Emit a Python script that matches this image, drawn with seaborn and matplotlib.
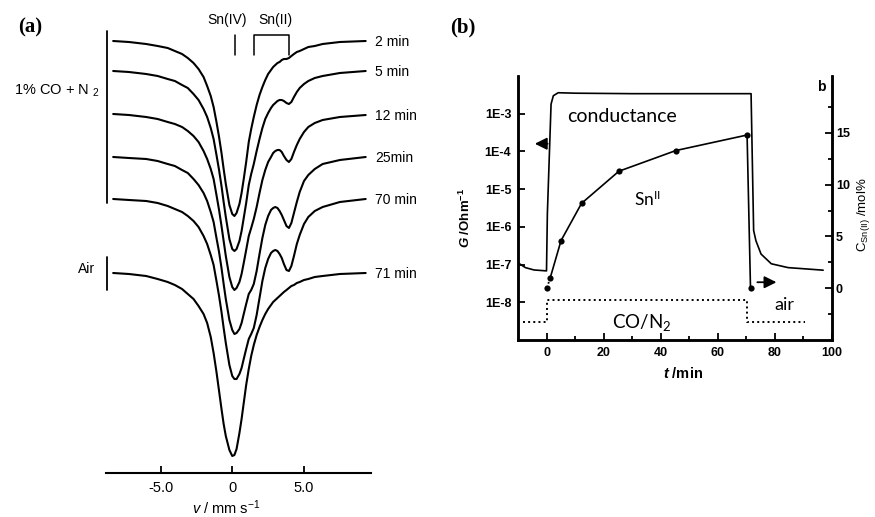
import numpy as np
import seaborn as sns
import matplotlib.pyplot as plt
from matplotlib.ticker import FixedLocator, NullLocator

# ---- (a) Moessbauer spectra: velocity (mm/s) and absorption depth
velocity = [-8.3, -7.2, -6.0, -5.2, -4.5, -4.0, -3.5, -3.1, -2.7, -2.35,
            -2.0, -1.75, -1.5, -1.3, -1.1, -0.92, -0.75, -0.6, -0.45, -0.2,
            0.0, 0.15, 0.3, 0.5, 0.65, 0.8, 0.97, 1.15, 1.32, 1.5,
            1.7, 1.9, 2.1, 2.3, 2.5, 2.7, 2.85, 3.0, 3.15, 3.3,
            3.45, 3.6, 3.78, 3.95, 4.12, 4.3, 4.5, 4.7, 5.0, 5.3,
            5.75, 6.3, 7.5, 9.3]
depth_2min = [3, 4, 6, 8, 10, 13, 16, 20, 25, 31,
              39, 48, 58, 69, 84, 99, 115, 131, 146, 167,
              176, 178, 175, 166, 155, 141, 124, 104, 91, 79,
              67, 57, 49, 42, 36, 32, 29, 27, 25, 24,
              22, 21, 21, 20, 18, 16, 14, 13, 11, 9,
              8, 6, 4, 3]
depth_5min = [3, 4, 6, 8, 11, 13, 17, 20, 26, 32,
              41, 49, 60, 71, 87, 102, 118, 134, 149, 171,
              181, 183, 181, 173, 163, 150, 135, 117, 106, 96,
              83, 71, 60, 51, 45, 40, 37, 35, 33, 32,
              32, 33, 35, 36, 34, 29, 24, 20, 16, 13,
              10, 8, 5, 3]
depth_12min = [3, 4, 6, 8, 11, 13, 16, 20, 25, 31,
               40, 48, 58, 68, 84, 99, 115, 130, 145, 166,
               176, 179, 177, 171, 163, 152, 139, 125, 117, 108,
               96, 82, 69, 59, 51, 46, 42, 40, 39, 39,
               41, 45, 49, 51, 48, 41, 34, 28, 21, 16,
               12, 9, 6, 4]
depth_25min = [4, 5, 6, 8, 11, 13, 17, 20, 26, 32,
               40, 48, 59, 69, 85, 99, 115, 131, 146, 167,
               177, 181, 180, 176, 170, 161, 151, 141, 137, 131,
               118, 101, 85, 72, 63, 57, 55, 54, 55, 58,
               62, 67, 73, 75, 70, 60, 49, 39, 28, 22,
               16, 11, 7, 4]
depth_70min = [4, 5, 6, 8, 11, 14, 17, 21, 26, 32,
               41, 49, 60, 70, 86, 101, 117, 133, 148, 170,
               181, 184, 184, 179, 173, 164, 154, 144, 139, 133,
               120, 103, 86, 73, 64, 58, 56, 55, 56, 59,
               63, 69, 75, 76, 71, 61, 49, 40, 29, 22,
               16, 12, 7, 4]
depth_71min = [3, 4, 6, 9, 12, 15, 19, 24, 29, 36,
               44, 53, 67, 83, 102, 121, 139, 154, 166, 180,
               186, 185, 179, 163, 149, 133, 115, 99, 86, 75,
               65, 57, 50, 44, 39, 35, 32, 30, 28, 26,
               24, 22, 20, 18, 16, 15, 13, 12, 10, 9,
               7, 6, 4, 3]
run_labels = ['2 min', '5 min', '12 min', '25min', '70 min', '71 min']

# ---- (b) conductance (left, log) and Sn(II) content (right) against time
cond_t = [-10, -7.5, -4.5, -0.1, 0.2, 1.5, 2.3, 4, 10, 30, 50, 71.7,
          72.6, 73.4, 75.2, 78.8, 84.7, 91.7, 97]
cond_G = [1.1e-7, 8.3e-8, 7.2e-8, 6.8e-8, 2.2e-6, 1.8e-3, 3.0e-3, 3.6e-3, 3.5e-3, 3.4e-3, 3.4e-3, 3.4e-3,
          8.0e-7, 4.3e-7, 1.9e-7, 1.05e-7, 8.3e-8, 7.6e-8, 7.1e-8]
sn_t = [0, 1.2, 5.0, 12.2, 25.3, 45.3, 70.3, 71.5]
sn_c = [0, 1.0, 4.6, 8.2, 11.3, 13.3, 14.8, 0]
gas_t = [-8.5, 0, 0, 70.3, 70.3, 90.5]
gas_G = [3.0e-9, 3.0e-9, 1.13e-8, 1.13e-8, 3.0e-9, 3.0e-9]
g_ticks = [1e-8, 1e-7, 1e-6, 1e-5, 1e-4, 1e-3]
g_labels = ['1E-8', '1E-7', '1E-6', '1E-5', '1E-4', '1E-3']

sns.set_theme(style='ticks', rc={'axes.edgecolor': 'black', 'xtick.color': 'black',
                                 'ytick.color': 'black', 'text.color': 'black'})
plt.rcParams['font.family'] = ['Liberation Sans', 'DejaVu Sans']
plt.rcParams['mathtext.fontset'] = 'custom'
plt.rcParams['mathtext.rm'] = 'Liberation Sans'
plt.rcParams['mathtext.it'] = 'Liberation Sans:italic'
plt.rcParams['mathtext.bf'] = 'Liberation Sans:bold'
plt.rcParams['mathtext.bfit'] = 'Liberation Sans:italic:bold'
plt.rcParams['mathtext.sf'] = 'Lato'

fig = plt.figure(figsize=(8.75, 5.17), dpi=100)

# ================= panel (a)
ax1 = fig.add_axes([106 / 875, 44 / 517, 265 / 875, 463 / 517])
spectra = [depth_2min, depth_5min, depth_12min, depth_25min, depth_70min, depth_71min]
stack = [-38, -68, -111, -153, -195, -270]
for lab, d, off in zip(run_labels, spectra, stack):
    y = off - np.asarray(d)
    sns.lineplot(x=velocity, y=y, ax=ax1, color='black', linewidth=1.5,
                 estimator=None, sort=False)
    ax1.text(9.95, y[-1] - 1, lab, ha='left', va='center', fontsize=10)

ax1.set_xlim(-8.8, 9.67)
ax1.set_ylim(-473, -10)
for s in ['left', 'right', 'top']:
    ax1.spines[s].set_visible(False)
ax1.spines['bottom'].set_linewidth(1.5)
ax1.set_yticks([])
ax1.set_xticks([-5, 0, 5], ['-5.0', '0', '5.0'])
ax1.tick_params(axis='x', direction='in', length=5, width=1.3, labelsize=10.5, pad=6)
ax1.set_xlabel('')
ax1.set_ylabel('')

# gas brackets and line markers
ax1.plot([-8.73, -8.73], [-31, -203], color='black', lw=1.3)
ax1.plot([-8.73, -8.73], [-257, -290], color='black', lw=1.3)
ax1.text(-9.22, -91, '1% CO + N $_2$', ha='right', va='center', fontsize=10.5)
ax1.text(-9.57, -269, 'Air', ha='right', va='center', fontsize=10)
ax1.plot([0.19, 0.19], [-35, -55], color='black', lw=1.1)
ax1.plot([1.53, 1.53, 3.97, 3.97], [-55, -35, -35, -55], color='black', lw=1.1)
ax1.text(-0.37, -20, 'Sn(IV)', ha='center', va='center', fontsize=10)
ax1.text(2.98, -20, 'Sn(II)', ha='center', va='center', fontsize=10)

fig.text(226 / 875, 1 - 508 / 517, r'$\mathit{v}$ / mm s$^{-1}$', ha='center', va='center', fontsize=10.5)
fig.text(18 / 875, 1 - 27.5 / 517, '(a)', family=['Liberation Serif', 'DejaVu Serif'],
         fontweight='bold', fontsize=15, va='center')

# ================= panel (b)
ax2 = fig.add_axes([518.3 / 875, 177 / 517, 313.4 / 875, 264 / 517])
ax2.set_yscale('log')
sns.lineplot(x=cond_t, y=cond_G, ax=ax2, color='black', linewidth=1.2, estimator=None, sort=False)
sns.lineplot(x=gas_t, y=gas_G, ax=ax2, color='black', linewidth=1.4, linestyle=':',
             estimator=None, sort=False)
ax2.annotate('', xy=(-4.2, 1.6e-4), xytext=(0.3, 1.6e-4),
             arrowprops=dict(arrowstyle='-|>,head_length=0.6,head_width=0.3', color='black',
                             lw=1.3, shrinkA=0, shrinkB=0))
ax2.text(7.0, 6.0e-4, 'conductance', family=['Lato', 'DejaVu Sans'], fontsize=14, va='baseline')

ax3 = ax2.twinx()
sns.lineplot(x=sn_t[:2], y=sn_c[:2], ax=ax3, color='black', linewidth=1.3, linestyle=':',
             estimator=None, sort=False)
sns.lineplot(x=sn_t[1:], y=sn_c[1:], ax=ax3, color='black', linewidth=1.2,
             estimator=None, sort=False)
sns.scatterplot(x=sn_t, y=sn_c, ax=ax3, color='black', s=20, linewidth=0, zorder=5)
ax3.annotate('', xy=(80.6, 0.58), xytext=(73.9, 0.58),
             arrowprops=dict(arrowstyle='-|>,head_length=0.6,head_width=0.3', color='black',
                             lw=1.3, shrinkA=0, shrinkB=0))
ax3.text(30.5, 7.9, r'Sn$^{\mathsf{II}}$', family=['Lato', 'DejaVu Sans'], fontsize=12.5, va='baseline')
ax3.text(22.9, -3.87, r'CO/N$_{\mathsf{2}}$', family=['Lato', 'DejaVu Sans'], fontsize=13.5, va='baseline')
ax3.text(79.8, -2.1, 'air', family=['Lato', 'DejaVu Sans'], fontsize=13, va='baseline')
ax3.text(0.968, 0.959, 'b', transform=ax2.transAxes, ha='center', va='center',
         fontsize=10, fontweight='bold')

ax2.set_xlim(-10, 100)
ax2.set_ylim(1e-9, 1e-2)
ax3.set_ylim(-5, 20.5)
ax2.set_yticks(g_ticks, g_labels)
ax2.yaxis.set_minor_locator(NullLocator())
ax2.set_xticks([0, 20, 40, 60, 80, 100])
ax2.xaxis.set_minor_locator(FixedLocator([10, 30, 50, 70, 90]))
ax3.set_yticks([0, 5, 10, 15])
ax3.yaxis.set_minor_locator(FixedLocator([-2.5, 2.5, 7.5, 12.5, 17.5]))
for a in (ax2, ax3):
    a.set_xlabel('')
    a.set_ylabel('')
    a.spines['top'].set_visible(False)
    for s in ['left', 'right', 'bottom']:
        a.spines[s].set_linewidth(1.8)
ax2.tick_params(axis='both', which='both', direction='in', width=1.3, labelsize=9)
ax2.tick_params(which='major', length=5)
ax2.tick_params(which='minor', length=3)
ax2.tick_params(axis='y', right=False, pad=5)
ax2.tick_params(axis='x', pad=5)
ax3.tick_params(axis='y', which='both', direction='in', width=1.3, labelsize=9, pad=3)
ax3.tick_params(axis='y', which='major', length=5)
ax3.tick_params(axis='y', which='minor', length=3)
for lbl in ax2.get_xticklabels() + ax2.get_yticklabels() + ax3.get_yticklabels():
    lbl.set_fontweight('bold')

fig.text(465 / 875, 1 - 218 / 517, r'$\mathbfit{G}$ /Ohm$^{\mathbf{-1}}$', rotation=90,
         ha='center', va='center', fontsize=9.5, fontweight='bold')
fig.text(863 / 875, 1 - 215 / 517, r'C$_{\mathrm{Sn(II)}}$ /mol%', rotation=90,
         ha='center', va='center', fontsize=9.5)
fig.text(683 / 875, 1 - 373 / 517, r'$\mathbfit{t}$ /min', ha='center', va='center',
         fontsize=10.5, fontweight='bold')
fig.text(450 / 875, 1 - 27.5 / 517, '(b)', family=['Liberation Serif', 'DejaVu Serif'],
         fontweight='bold', fontsize=15, va='center')

fig.savefig('out.png', dpi=100)
